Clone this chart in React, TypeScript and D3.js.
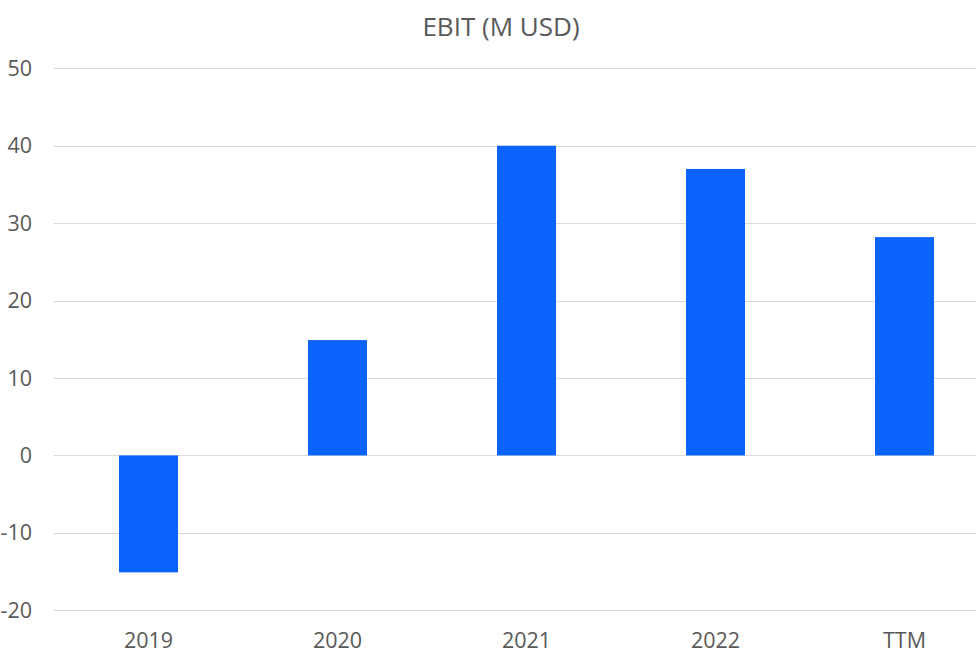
import React from "react";
import * as d3 from "d3";

const categories = ["2019", "2020", "2021", "2022", "TTM"];
const ebitValues = [-15.1, 14.9, 40.0, 37.0, 28.2];
const yTicks = [-20, -10, 0, 10, 20, 30, 40, 50];
const title = "EBIT (M USD)";

export default function App() {
  const W = 976, H = 657;
  const x = d3.scaleBand<string>().domain(categories).range([54.5, 999.5]).paddingInner(0.6878).paddingOuter(0.3439);
  const y = d3.scaleLinear().domain([-20, 50]).range([610.3, 68.3]);
  const font = "'Open Sans', 'Noto Sans', sans-serif";
  const bw = 59;
  return (
    <svg width={W} height={H} style={{ position: "absolute", left: 0, top: 0, background: "#fff" }}>
      <text x={501} y={36} textAnchor="middle" fontFamily={font} fontSize={26} fill="#595959">{title}</text>
      {yTicks.map((t) => (
        <g key={t}>
          <line x1={54} x2={W} y1={Math.round(y(t)) + 0.5} y2={Math.round(y(t)) + 0.5} stroke="#d9d9d9" strokeWidth={1} />
          <text x={32} y={y(t)} dy="0.35em" textAnchor="end" fontFamily={font} fontSize={21.5} fill="#595959">{t}</text>
        </g>
      ))}
      {categories.map((c, i) => {
        const cx = (x(c) as number) + x.bandwidth() / 2 - 0.5;
        const v = ebitValues[i];
        return (
          <g key={c}>
            <rect x={cx - bw / 2} width={bw} y={Math.min(y(v), y(0))} height={Math.abs(y(v) - y(0))} fill="#0a64fb" />
            <text x={cx} y={648} textAnchor="middle" fontFamily={font} fontSize={21.5} fill="#595959">{c}</text>
          </g>
        );
      })}
    </svg>
  );
}
